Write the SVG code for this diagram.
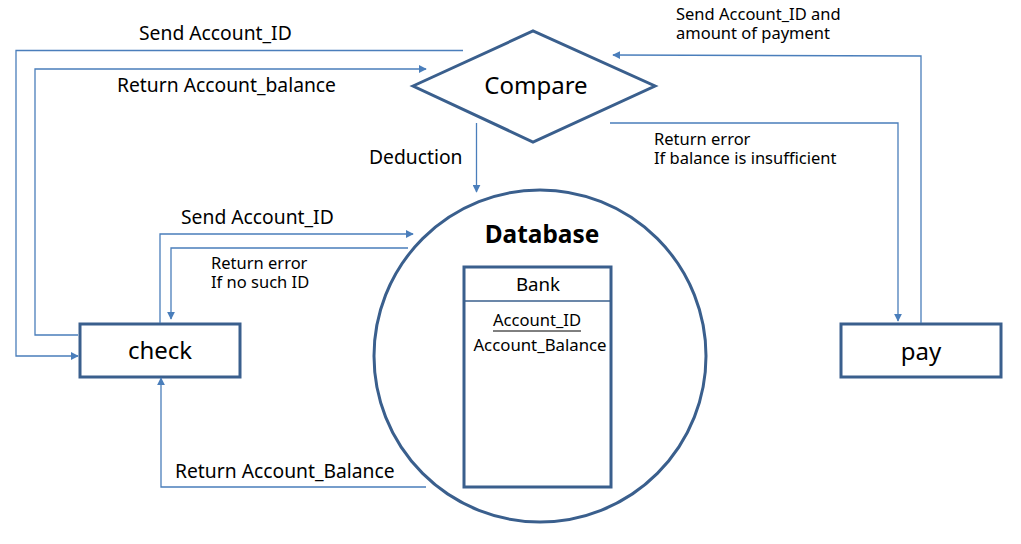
<svg xmlns="http://www.w3.org/2000/svg" width="1021" height="544" viewBox="0 0 1021 544">
<style>
.shape{fill:#fff;stroke:#3A5F8D;stroke-width:3}
.conn{fill:none;stroke:#4A7EBB;stroke-width:1.3}
text{font-family:"Noto Sans","Open Sans","Liberation Sans",sans-serif;fill:#000}
.lbl{font-size:19.3px}
.sm{font-size:16.5px}
.nd{font-size:24px;text-anchor:middle}
</style>
<defs>
<marker id="arr" viewBox="0 0 10 10" refX="9" refY="5" markerWidth="8" markerHeight="8" markerUnits="userSpaceOnUse" orient="auto">
<path d="M0,0 L10,5 L0,10 z" fill="#4A7EBB"/>
</marker>
</defs>
<rect width="1021" height="544" fill="#fff"/>
<g id="database">
<circle class="shape" cx="540" cy="356" r="166"/>
<text x="542" y="243" font-size="24.4" font-weight="bold" text-anchor="middle">Database</text>
</g>
<g id="bank">
<rect class="shape" x="464" y="267" width="147" height="220" stroke-width="2.5"/>
<line x1="464" y1="301" x2="611" y2="301" stroke="#3A5F8D" stroke-width="1.5"/>
<text x="538" y="291" font-size="18.7" text-anchor="middle">Bank</text>
<text x="537" y="326" font-size="16.6" text-anchor="middle">Account_ID</text>
<line x1="493" y1="331" x2="581" y2="331" stroke="#000" stroke-width="1"/>
<text x="540" y="351" font-size="16.8" text-anchor="middle">Account_Balance</text>
</g>
<g id="compare">
<polygon class="shape" points="413,86 533,31 655,86 533,142" stroke-width="2.5"/>
<text class="nd" x="536" y="94" font-size="20.6">Compare</text>
</g>
<g id="check">
<rect class="shape" x="80" y="324" width="160" height="53"/>
<text class="nd" x="160" y="359" font-size="25.5">check</text>
</g>
<g id="pay">
<rect class="shape" x="841" y="324" width="160" height="53"/>
<text class="nd" x="921" y="360">pay</text>
</g>
<g id="connectors">
<polyline class="conn" points="463,50.5 16,50.5 16,356 78,356" marker-end="url(#arr)"/>
<polyline class="conn" points="78,335 35,335 35,69 426,69" marker-end="url(#arr)"/>
<polyline class="conn" points="476.5,123 476.5,192" marker-end="url(#arr)"/>
<polyline class="conn" points="160,323 160,234 413,234" marker-end="url(#arr)"/>
<polyline class="conn" points="408,248 171,248 171,319" marker-end="url(#arr)"/>
<polyline class="conn" points="426,487 161,487 161,378" marker-end="url(#arr)"/>
<polyline class="conn" points="921,323 921,56 613,55" marker-end="url(#arr)"/>
<polyline class="conn" points="610,123 898,123 898,321" marker-end="url(#arr)"/>
</g>
<g id="labels">
<text class="lbl" x="139" y="40">Send Account_ID</text>
<text class="lbl" x="117" y="92">Return Account_balance</text>
<text class="sm" x="676" y="20">Send Account_ID and<tspan x="676" dy="19">amount of payment</tspan></text>
<text class="sm" x="654" y="145">Return error<tspan x="654" dy="19">If balance is insufficient</tspan></text>
<text class="lbl" x="369" y="164">Deduction</text>
<text class="lbl" x="181" y="224">Send Account_ID</text>
<text class="sm" x="211" y="269">Return error<tspan x="211" dy="19">If no such ID</tspan></text>
<text class="lbl" x="175" y="478">Return Account_Balance</text>
</g>
</svg>
